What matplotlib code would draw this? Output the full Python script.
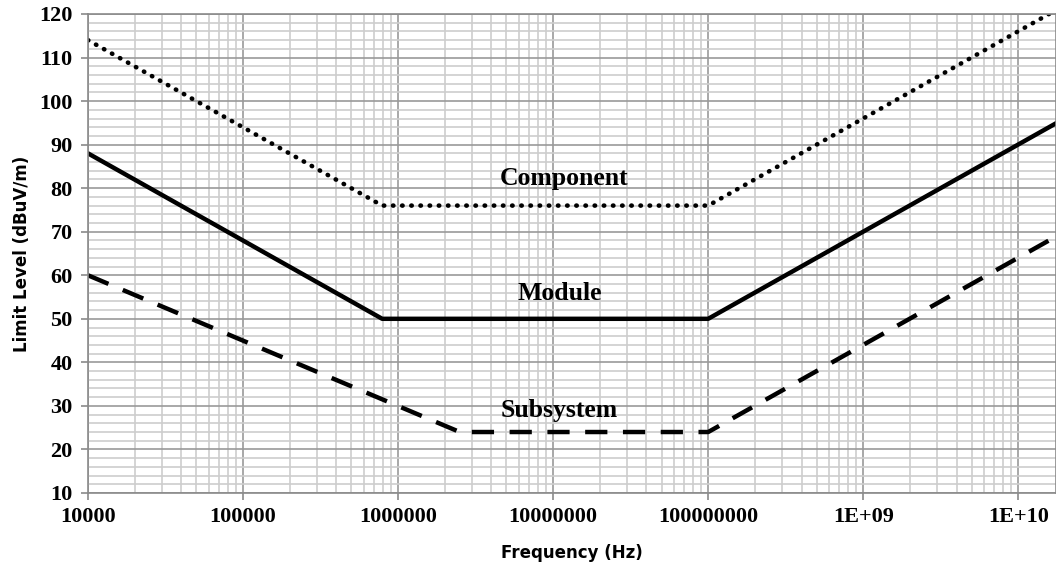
"""
Radiated emission limit levels for component, module and subsystem.
"""

import numpy as np
import matplotlib.pyplot as plt
from matplotlib.ticker import FixedLocator, NullFormatter

# breakpoints of each limit line (Hz, dBuV/m)
component_freq = [1e4, 7.9e5, 1e8, 1.75e10]
component_level = [114, 76, 76, 120.9]

module_freq = [1e4, 7.9e5, 1e8, 1.75e10]
module_level = [88, 50, 50, 94.9]

subsystem_freq = [1e4, 2.5e6, 1e8, 1.75e10]
subsystem_level = [60, 24, 24, 68.9]

x_ticks = [1e4, 1e5, 1e6, 1e7, 1e8, 1e9, 1e10]
x_tick_labels = ["10000", "100000", "1000000", "10000000", "100000000",
                 "1E+09", "1E+10"]
y_ticks = list(range(10, 121, 10))

labels = ["Component", "Module", "Subsystem"]
label_freq = [1.17e7, 1.1e7, 1.1e7]
label_level = [80.7, 54.3, 27.5]

fig = plt.figure(figsize=(10.56, 5.69), dpi=100)
ax = fig.add_axes([0.0833, 0.1336, 0.9167, 0.8418])

ax.set_xscale("log")
ax.set_xlim(1e4, 1.75e10)
ax.set_ylim(10, 120)

# grid: light minor lines, darker major lines
minor_x = [m * 10 ** e for e in range(4, 11) for m in range(2, 10)]
ax.xaxis.set_minor_locator(FixedLocator(minor_x))
ax.xaxis.set_minor_formatter(NullFormatter())
ax.yaxis.set_minor_locator(FixedLocator(np.arange(10, 121, 2)))
ax.grid(which="minor", color="#cdcdcd", linewidth=1.2)
ax.grid(which="major", color="#9a9a9a", linewidth=1.2)
ax.set_axisbelow(True)
ax.tick_params(which="minor", length=0)

ax.set_xticks(x_ticks)
ax.set_xticklabels(x_tick_labels)
ax.set_yticks(y_ticks)
ax.tick_params(which="major", length=5, color="#8a8a8a", width=1.2,
               labelsize=16)
for lab in ax.get_xticklabels() + ax.get_yticklabels():
    lab.set_fontfamily("Liberation Serif")
    lab.set_fontweight("bold")
ax.tick_params(axis="x", pad=5)
ax.tick_params(axis="y", pad=6)

for s in ax.spines.values():
    s.set_color("#8a8a8a")
    s.set_linewidth(1.2)

ax.plot(component_freq, component_level, color="black", linewidth=3.3,
        linestyle=(0, (0.1, 1.9)), dash_capstyle="round")
ax.plot(module_freq, module_level, color="black", linewidth=3.2)
ax.plot(subsystem_freq, subsystem_level, color="black", linewidth=3.2,
        linestyle=(0, (5, 3.5)))

for t, fx, fy in zip(labels, label_freq, label_level):
    ax.text(fx, fy, t, ha="center", va="baseline", fontsize=18.5,
            fontweight="bold", family="Liberation Serif")

ax.set_xlabel("Frequency (Hz)", fontsize=12, fontweight="bold",
              family="DejaVu Sans", labelpad=12)
ax.set_ylabel("Limit Level (dBuV/m)", fontsize=12, fontweight="bold",
              family="DejaVu Sans", labelpad=6)

fig.savefig("out.png", dpi=100)
